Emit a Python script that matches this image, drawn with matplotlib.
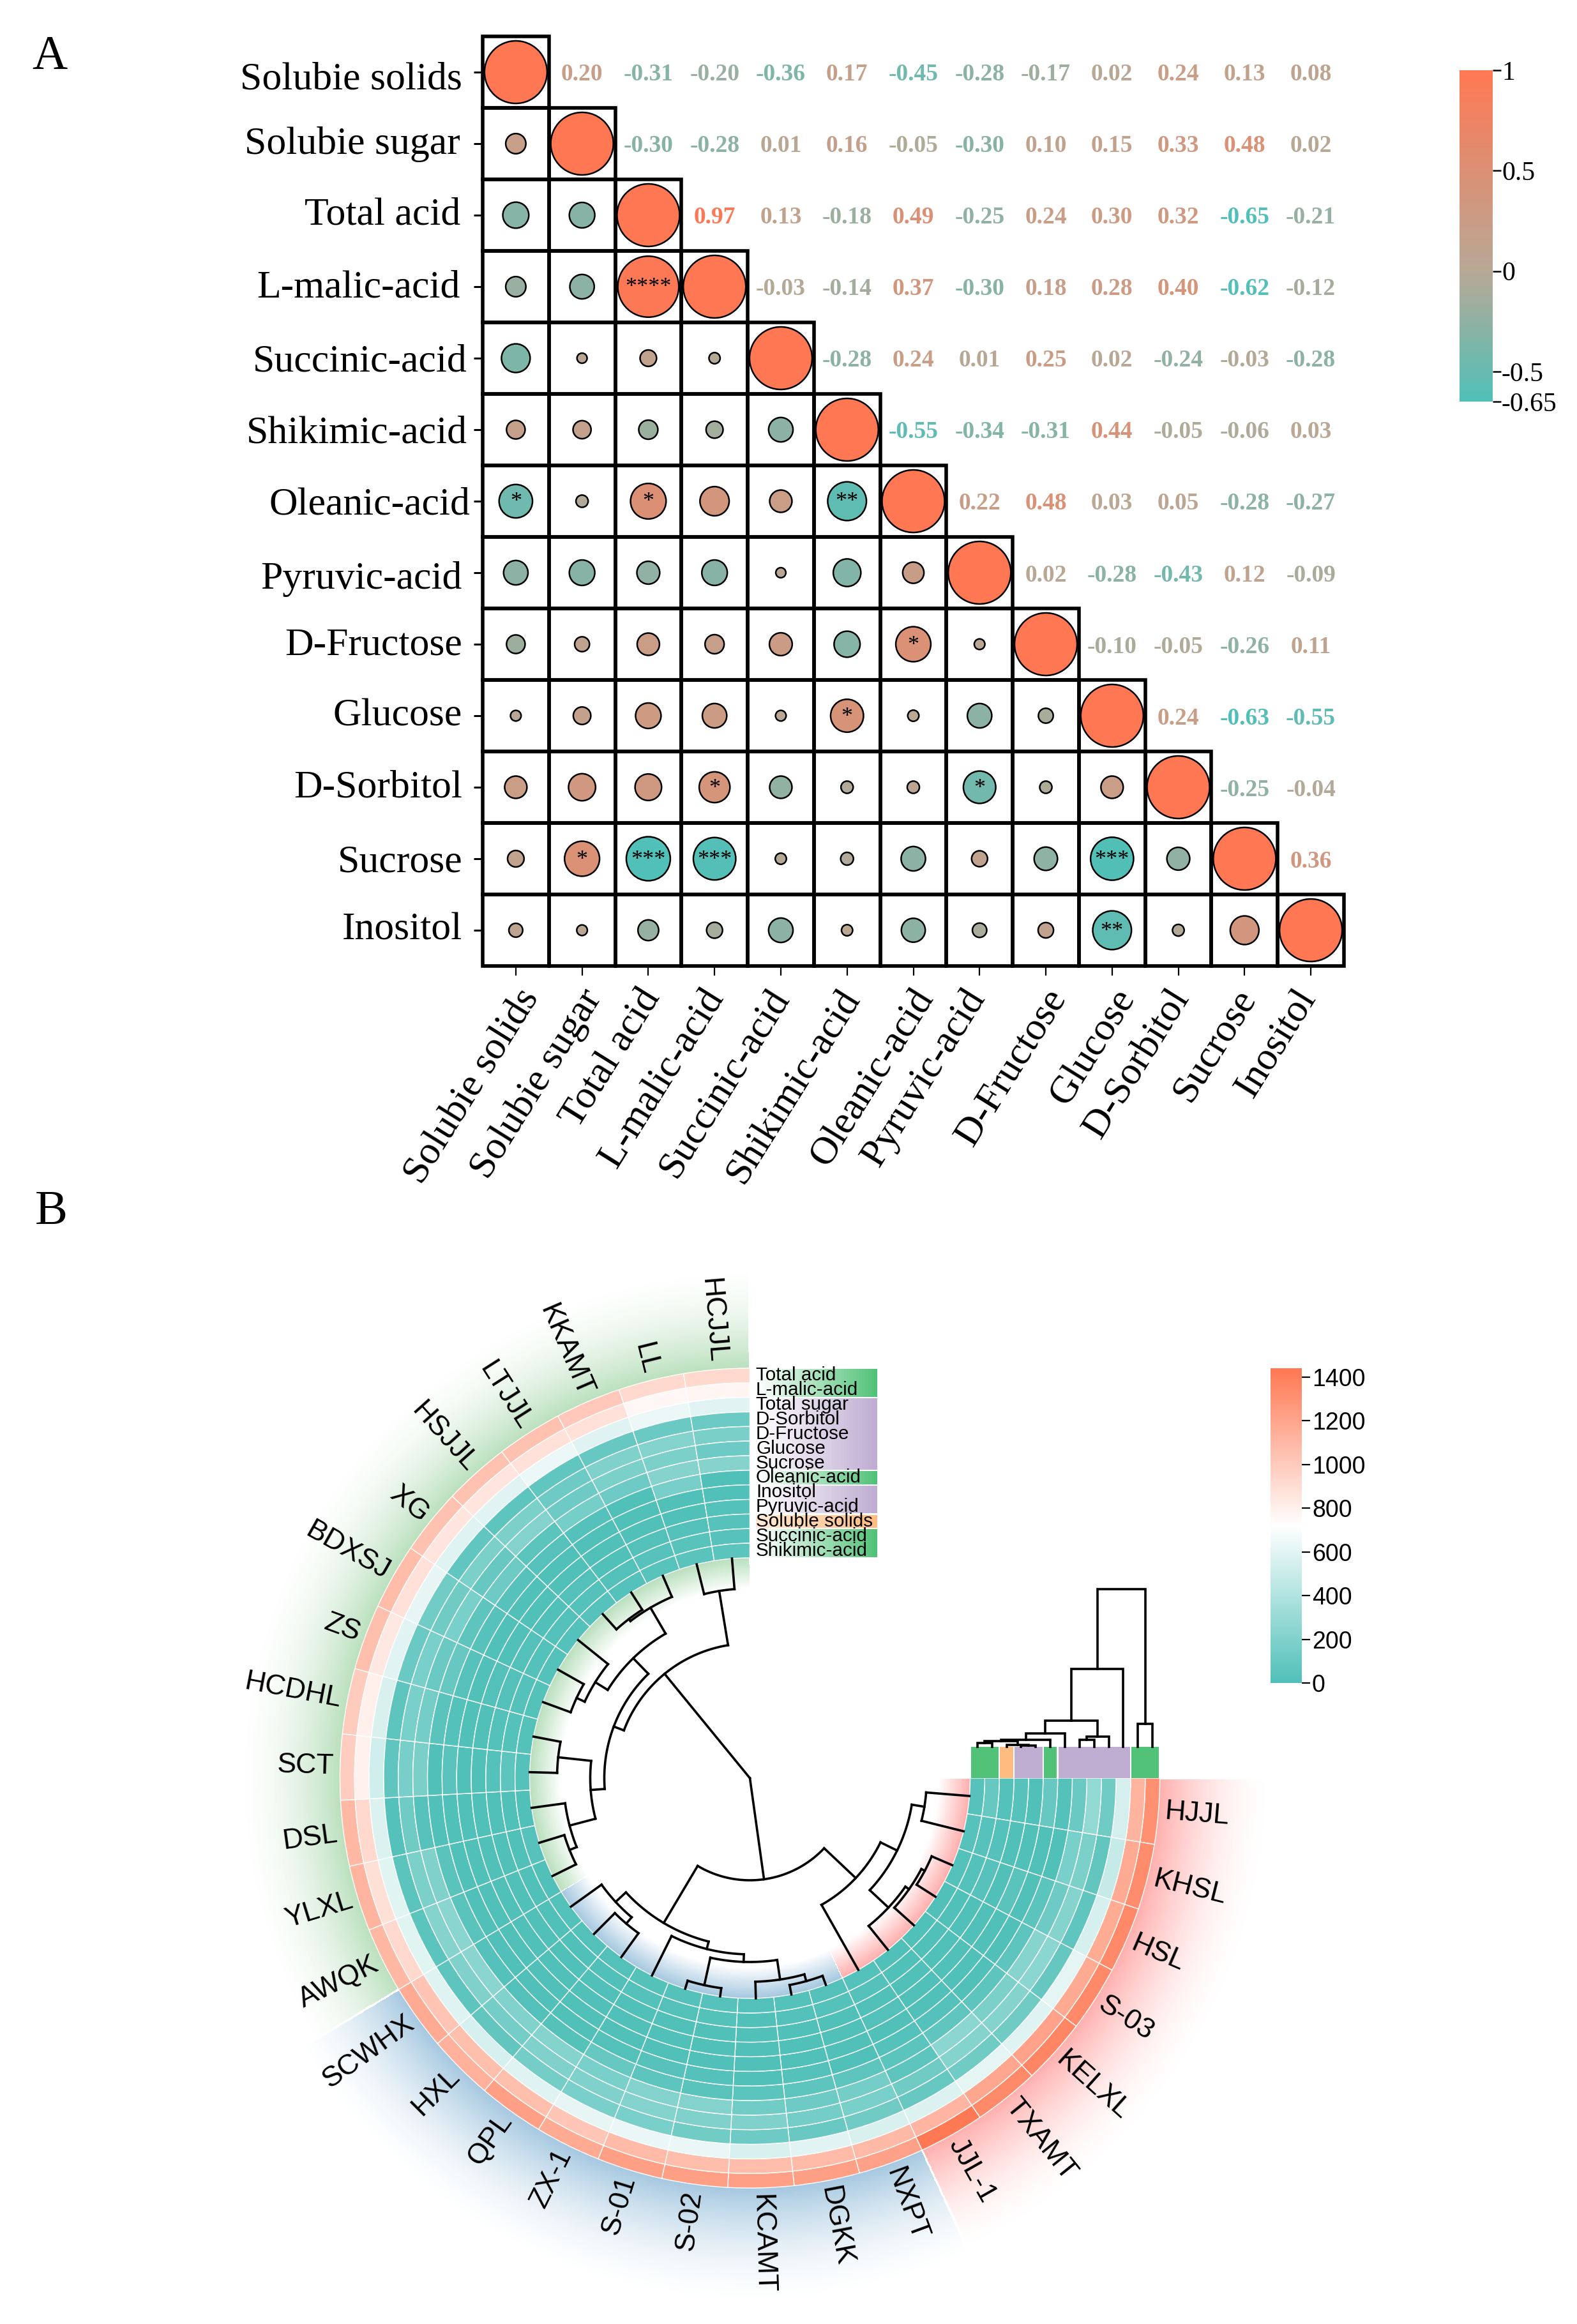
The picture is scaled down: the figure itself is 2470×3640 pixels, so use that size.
import matplotlib
matplotlib.use('Agg')
import matplotlib.pyplot as plt
from matplotlib.colors import LinearSegmentedColormap, TwoSlopeNorm, Normalize
from matplotlib.patches import Rectangle
from matplotlib.transforms import ScaledTranslation
import numpy as np

plt.rcParams['font.family'] = 'Liberation Serif'

# ---- panel A data
traits = ['Solubie solids', 'Solubie sugar', 'Total acid', 'L-malic-acid', 'Succinic-acid',
          'Shikimic-acid', 'Oleanic-acid', 'Pyruvic-acid', 'D-Fructose', 'Glucose',
          'D-Sorbitol', 'Sucrose', 'Inositol']
upper_r = [
    [0.20, -0.31, -0.20, -0.36, 0.17, -0.45, -0.28, -0.17, 0.02, 0.24, 0.13, 0.08],
    [-0.30, -0.28, 0.01, 0.16, -0.05, -0.30, 0.10, 0.15, 0.33, 0.48, 0.02],
    [0.97, 0.13, -0.18, 0.49, -0.25, 0.24, 0.30, 0.32, -0.65, -0.21],
    [-0.03, -0.14, 0.37, -0.30, 0.18, 0.28, 0.40, -0.62, -0.12],
    [-0.28, 0.24, 0.01, 0.25, 0.02, -0.24, -0.03, -0.28],
    [-0.55, -0.34, -0.31, 0.44, -0.05, -0.06, 0.03],
    [0.22, 0.48, 0.03, 0.05, -0.28, -0.27],
    [0.02, -0.28, -0.43, 0.12, -0.09],
    [-0.10, -0.05, -0.26, 0.11],
    [0.24, -0.63, -0.55],
    [-0.25, -0.04],
    [0.36],
]
star_row = [6, 6, 3, 6, 8, 9, 10, 10, 11, 11, 11, 11, 12]
star_col = [0, 2, 2, 5, 6, 5, 3, 7, 1, 2, 3, 9, 9]
star_txt = ['*', '*', '****', '**', '*', '*', '*', '*', '*', '***', '***', '***', '**']
corr_ticks = [1, 0.5, 0, -0.5, -0.65]
corr_ticklabels = ['1', '0.5', '0', '-0.5', '-0.65']

# ---- panel B data
cultivars = ['HJJL', 'KHSL', 'HSL', 'S-03', 'KELXL', 'TXAMT', 'JJL-1', 'NXPT', 'DGKK', 'KCAMT',
             'S-02', 'S-01', 'ZX-1', 'QPL', 'HXL', 'SCWHX', 'AWQK', 'YLXL', 'DSL', 'SCT',
             'HCDHL', 'ZS', 'BDXSJ', 'XG', 'HSJJL', 'LTJJL', 'KKAMT', 'LL', 'HCJJL']
groups = ['red'] * 7 + ['blue'] * 9 + ['green'] * 13
total_acid = [1310, 1330, 1345, 1345, 1365, 1340, 1430, 1215, 1225, 1225, 1225, 1225, 1170, 1225, 1135,
              1175, 1099, 1115, 1099, 987, 1000, 1060, 1075, 1050, 1050, 1050, 1010, 925, 925]
l_malic = [1115, 1165, 1160, 1165, 1210, 1190, 1110, 1090, 1080, 1070, 1070, 1080, 1020, 1060, 1060,
           1030, 928, 886, 928, 789, 800, 840, 880, 860, 860, 880, 880, 760, 770]
total_sugar = [543, 481, 547, 612, 588, 612, 570, 560, 600, 560, 630, 630, 620, 585, 547,
               588, 592, 592, 575, 526, 560, 600, 620, 590, 600, 640, 590, 640, 600]
d_sorbitol = [132, 74, 66, 86, 132, 132, 100, 130, 105, 120, 140, 170, 170, 150, 74,
              58, 49, 49, 20, 62, 60, 110, 140, 70, 60, 70, 100, 110, 115]
d_fructose = [271, 185, 218, 251, 218, 218, 130, 170, 150, 200, 200, 210, 200, 197, 150,
              197, 218, 185, 132, 164, 170, 170, 130, 180, 180, 120, 200, 210, 175]
glucose = [107, 172, 119, 230, 185, 250, 60, 150, 120, 140, 210, 210, 170, 215, 206,
           238, 247, 197, 33, 176, 150, 110, 170, 90, 210, 120, 180, 180, 120]
sucrose = [20, 10, 49, 58, 58, 66, 50, 60, 60, 50, 40, 60, 90, 25, 16,
           20, 41, 41, 0, 0, 40, 100, 60, 120, 50, 160, 120, 220, 220]
oleanic = [90, 10, 0, 5, 8, 20, 20, 10, 20, 10, 20, 30, 15, 5, 0,
           0, 0, 0, 0, 41, 20, 30, 30, 30, 30, 20, 10, 165, 5]
inositol = [0, 5, 41, 10, 10, 10, 5, 10, 5, 5, 5, 10, 10, 5, 0,
            0, 0, 0, 0, 0, 5, 10, 10, 5, 5, 5, 0, 0, 0]
pyruvic = [33, 10, 10, 10, 5, 10, 15, 10, 10, 5, 10, 10, 10, 5, 0,
           0, 0, 0, 0, 0, 5, 15, 5, 5, 5, 10, 5, 5, 20]
solids = [20, 20, 33, 0, 10, 5, 10, 10, 10, 5, 10, 10, 10, 5, 5,
          0, 0, 0, 0, 20, 15, 15, 15, 10, 15, 10, 15, 15, 30]
succinic = [90, 33, 20, 5, 5, 5, 20, 20, 15, 10, 25, 15, 20, 10, 10,
            8, 0, 0, 8, 58, 20, 20, 20, 15, 20, 15, 30, 35, 30]
shikimic = [29, 33, 20, 8, 5, 5, 20, 15, 20, 15, 30, 20, 25, 15, 15,
            12, 8, 33, 0, 20, 25, 25, 20, 20, 30, 20, 35, 40, 50]
ring_names = ['Total acid', 'L-malic-acid', 'Total sugar', 'D-Sorbitol', 'D-Fructose', 'Glucose', 'Sucrose',
              'Oleanic-acid', 'Inositol', 'Pyruvic-acid', 'Soluble solids', 'Succinic-acid', 'Shikimic-acid']
ring_values = [total_acid, l_malic, total_sugar, d_sorbitol, d_fructose, glucose, sucrose,
               oleanic, inositol, pyruvic, solids, succinic, shikimic]
ring_class = ['acid', 'acid', 'sugar', 'sugar', 'sugar', 'sugar', 'sugar',
              'acid', 'sugar', 'sugar', 'solid', 'acid', 'acid']
heat_ticks = [0, 200, 400, 600, 800, 1000, 1200, 1400]

# merges as (child, child, height); children above the leaf count are earlier merges
col_left = [27, 19, 16, 18, 32, 21, 23, 24, 36, 35, 33, 39, 13, 41, 10, 7, 44, 45, 12, 47, 0, 2, 50, 51, 49, 6, 54, 40]
col_right = [28, 20, 17, 31, 30, 22, 34, 25, 26, 37, 38, 29, 14, 15, 11, 8, 9, 43, 46, 42, 1, 3, 4, 5, 52, 53, 48, 55]
col_height = [48, 43, 41, 53, 95, 46, 60, 32, 36, 83, 117, 134, 46, 59, 13, 15, 26, 57, 69, 81, 68, 35, 41, 48, 88, 117, 185, 345]
row_left = [0, 3, 2, 13, 16, 17, 7, 19, 18, 21, 11, 22]
row_right = [1, 4, 14, 15, 5, 6, 8, 9, 20, 10, 12, 23]
row_height = [6, 2, 3, 9, 11, 21, 11, 16, 41, 122, 36, 247]

FW, FH = 2470, 3640
TEAL, ORANGE = '#50C0B8', '#FF7853'


def px_axes(left, top, right, bottom, **kw):
    return fig.add_axes([left / FW, 1 - bottom / FH, (right - left) / FW, (bottom - top) / FH], **kw)


def shift(label, dx, dy):
    label.set_transform(label.get_transform() + ScaledTranslation(dx / 100, -dy / 100, fig.dpi_scale_trans))


def vertical_bar(cax, vmin, vmax, cmap, norm):
    y = np.linspace(vmin, vmax, 257)
    cax.pcolormesh([0, 1], y, ((y[:-1] + y[1:]) / 2)[:, None], cmap=cmap, norm=norm)
    cax.set_xticks([])
    cax.yaxis.tick_right()
    for s in cax.spines.values():
        s.set_visible(False)


def tree_nodes(n_leaf, left, right, height):
    # position of every merge is the middle of its two children
    pos = list(np.arange(n_leaf, dtype=float))
    hgt = [0.0] * n_leaf
    for a, b, h in zip(left, right, height):
        pos.append((pos[a] + pos[b]) / 2)
        hgt.append(h)
    return pos, hgt


fig = plt.figure(figsize=(FW / 100, FH / 100), dpi=100, facecolor='white')
fig.text(50 / FW, 1 - 108 / FH, 'A', fontsize=55, va='baseline')
fig.text(55 / FW, 1 - 1917 / FH, 'B', fontsize=55, va='baseline')

# ---- A: correlation triangle
n = len(traits)
corr = np.eye(n)
for i, row in enumerate(upper_r):
    corr[i, i + 1:] = row
    corr[i + 1:, i] = row

corr_cmap = LinearSegmentedColormap.from_list('corr', [TEAL, '#B8A896', ORANGE])
corr_norm = TwoSlopeNorm(vmin=-0.65, vcenter=0, vmax=1)

ax = px_axes(756, 57, 2105, 1513)
ax.set_xlim(-0.5, n - 0.5)
ax.set_ylim(n - 0.5, -0.5)
for s in ax.spines.values():
    s.set_visible(False)
for i in range(n):
    for j in range(i + 1):
        ax.add_patch(Rectangle((j - 0.5, i - 0.5), 1, 1, fill=False, ec='black', lw=4, clip_on=False, zorder=1))

low_r, low_c = np.tril_indices(n)
vals = corr[low_r, low_c]
ax.scatter(low_c, low_r, s=((15 + 83 * np.abs(vals)) * 0.72) ** 2, c=vals, cmap=corr_cmap, norm=corr_norm,
           edgecolors='black', linewidths=1.8, zorder=2, clip_on=False)
up_r, up_c = np.triu_indices(n, 1)
for i, j in zip(up_r, up_c):
    # the printed numbers sit a few pixels under the row centre
    t = ax.text(j, i, f'{corr[i, j]:.2f}', ha='center', va='center', fontsize=27, fontweight='bold',
                color=corr_cmap(corr_norm(corr[i, j])))
    shift(t, 0, 4)
for i, j, s in zip(star_row, star_col, star_txt):
    t = ax.text(j, i, s, ha='center', va='center', fontsize=26, color='black', zorder=3)
    shift(t, 0, 2)

ax.set_xticks(range(n))
ax.set_yticks(range(n))
ax.set_xticklabels(traits, rotation=58, ha='right', va='center', rotation_mode='anchor', fontsize=44.5)
ax.set_yticklabels(traits, fontsize=44.5, va='baseline')
ax.tick_params(axis='y', length=10, width=2.2, pad=0)
ax.tick_params(axis='x', length=11, width=1.6, pad=0)
ylab_right = [724, 721, 721, 721, 732, 732, 736, 724, 724, 724, 724, 724, 724]
ylab_base = [27, 16, 14, 17, 21, 21, 20, 25, 16, 15, 15, 20, 14]
for lab, r, b in zip(ax.get_yticklabels(), ylab_right, ylab_base):
    shift(lab, r - 742, b)
xlab_dx = [24, 19, 6, 2, 1, 8, 19, -4, 19, 24, 5, 5, -4]
for lab, dx in zip(ax.get_xticklabels(), xlab_dx):
    shift(lab, dx, 26)

cax = px_axes(2286, 110, 2338, 629)
vertical_bar(cax, -0.65, 1, corr_cmap, corr_norm)
cax.set_yticks(corr_ticks)
cax.set_yticklabels(corr_ticklabels, fontsize=30)
cax.tick_params(axis='y', length=9, width=1.8, pad=1)

# ---- B: circular heatmap, polar axes centred on the ring
CX, CY, RMAX = 1174.5, 2785, 835
R_IN, R_W = 345, 22.85
pol = px_axes(CX - RMAX, CY - RMAX, CX + RMAX, CY + RMAX, projection='polar')
pol.set_theta_zero_location('E')
pol.set_theta_direction(-1)
pol.set_ylim(0, RMAX)
pol.axis('off')
pol.patch.set_visible(False)

n_col = len(cultivars)
step = np.deg2rad(270 / n_col)
theta = (np.arange(n_col) + 0.5) * step
r_out = R_IN + R_W * len(ring_names)

# sector backgrounds, fading to white on both sides of the rings
sector_color = {'red': '#FFB0AE', 'blue': '#A6C8E0', 'green': '#BBE0BE'}
sector_reach = {'red': 820, 'blue': 830, 'green': 810}
for g, c in sector_color.items():
    idx = [k for k, x in enumerate(groups) if x == g]
    th = np.linspace(idx[0] * step + 0.003, (idx[-1] + 1) * step - 0.003, 100)
    fade = LinearSegmentedColormap.from_list(g, ['white', c])
    rr = np.linspace(r_out, sector_reach[g], 90)
    pol.pcolormesh(th, rr, np.tile((np.linspace(1, 0, 89) ** 1.8)[:, None], (1, 99)), cmap=fade, vmin=0, vmax=1, zorder=0)
    rr = np.linspace(R_IN - 50, R_IN, 30)
    pol.pcolormesh(th, rr, np.tile(np.linspace(0, 1, 29)[:, None], (1, 99)), cmap=fade, vmin=0, vmax=1, zorder=0)

heat_cmap = LinearSegmentedColormap.from_list('heat', [TEAL, '#FFFFFF', ORANGE])
heat_norm = Normalize(0, 1440)
for k, values in enumerate(ring_values):
    bottom = r_out - (k + 1) * R_W
    pol.bar(theta, R_W, width=step, bottom=bottom, color=heat_cmap(heat_norm(np.array(values))),
            edgecolor='white', linewidth=1.0, zorder=2)

for t, name in zip(theta, cultivars):
    ang = (-np.rad2deg(t)) % 360
    if 90 < ang < 270:
        pol.text(t, 652, name, rotation=ang - 180, rotation_mode='anchor', ha='right', va='center',
                 family='Liberation Sans', fontsize=32)
    else:
        pol.text(t, 652, name, rotation=ang, rotation_mode='anchor', ha='left', va='center',
                 family='Liberation Sans', fontsize=32)

# column dendrogram inside the ring
pos, hgt = tree_nodes(n_col, col_left, col_right, col_height)
for m, (a, b) in enumerate(zip(col_left, col_right)):
    node = n_col + m
    r_node = R_IN - hgt[node]
    t_a, t_b = (pos[a] + 0.5) * step, (pos[b] + 0.5) * step
    pol.plot(np.linspace(t_a, t_b, 40), np.full(40, r_node), color='black', lw=2.6, zorder=3, solid_capstyle='projecting')
    pol.plot([t_a, t_a], [r_node, R_IN - hgt[a]], color='black', lw=2.6, zorder=3)
    pol.plot([t_b, t_b], [r_node, R_IN - hgt[b]], color='black', lw=2.6, zorder=3)

# row names with their class strip at the end of the rings
class_color = {'acid': '#52C278', 'sugar': '#BFADD2', 'solid': '#FFBC80'}
n_ring = len(ring_names)
rows = px_axes(1184, 2143, 1374, CY - R_IN)
rows.set_xlim(0, 1)
rows.set_ylim(n_ring, 0)
rows.axis('off')
start = 0
for k in range(1, n_ring + 1):
    if k == n_ring or ring_class[k] != ring_class[start]:
        fade = LinearSegmentedColormap.from_list('f', ['white', class_color[ring_class[start]]])
        low = 0.35 if ring_class[start] == 'solid' else 0
        rows.pcolormesh(np.linspace(0, 1, 41), [start + 0.05, k - 0.05], np.linspace(low, 1, 40)[None, :],
                        cmap=fade, vmin=0, vmax=1)
        start = k
for k, name in enumerate(ring_names):
    rows.text(0, k + 0.5, name, ha='left', va='center', family='Liberation Sans', fontsize=21.3, clip_on=False)

# the same classes and the row dendrogram above the right edge of the ring, innermost ring on the left
strip = px_axes(CX + R_IN, 2736, CX + r_out, CY)
strip.set_xlim(0, n_ring)
strip.set_ylim(0, 1)
strip.axis('off')
rev_class = ring_class[::-1]
start = 0
for k in range(1, n_ring + 1):
    if k == n_ring or rev_class[k] != rev_class[start]:
        strip.bar((start + k) / 2, 1, width=k - start - 0.1, color=class_color[rev_class[start]])
        start = k

den = px_axes(CX + R_IN, 2486, CX + r_out, 2736)
den.set_xlim(0, n_ring)
den.set_ylim(0, 250)
den.axis('off')
pos, hgt = tree_nodes(n_ring, row_left, row_right, row_height)
for m, (a, b) in enumerate(zip(row_left, row_right)):
    h = hgt[n_ring + m]
    den.plot([pos[a] + 0.5, pos[a] + 0.5, pos[b] + 0.5, pos[b] + 0.5], [hgt[a], h, h, hgt[b]],
             color='black', lw=2.6, clip_on=False, solid_joinstyle='miter')

cb = px_axes(1990, 2143, 2039, 2636)
vertical_bar(cb, 0, 1440, heat_cmap, heat_norm)
cb.set_yticks(heat_ticks)
cb.set_yticklabels([str(t) for t in heat_ticks], family='Liberation Sans', fontsize=27)
cb.tick_params(axis='y', length=9.5, width=1.6, pad=2)

fig.savefig('out.png', dpi=100)
